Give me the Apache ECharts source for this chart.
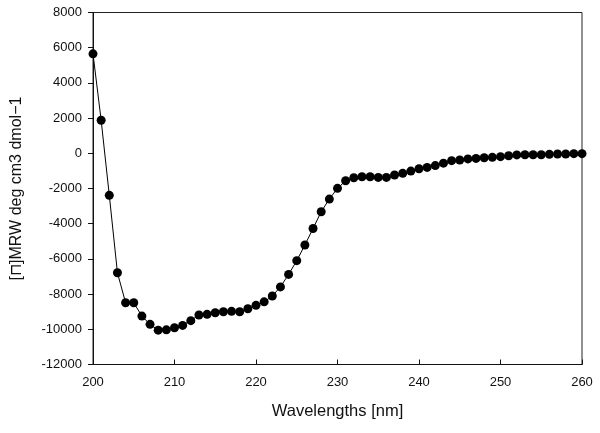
<!DOCTYPE html>
<html lang="en">

<head>
  <meta charset="UTF-8">
  <title>CD spectrum</title>
</head>

<body style="margin:0;background:#fff;">
  <div id="main" style="width: 600px;height:433px;"></div>

  <script src="https://cdn.jsdelivr.net/npm/echarts@6/dist/echarts.min.js"></script>
  <script>
    // wavelengths 200..260 nm, one reading per nm
    let wavelengths = [
      200, 201, 202, 203, 204, 205, 206, 207, 208, 209,
      210, 211, 212, 213, 214, 215, 216, 217, 218, 219,
      220, 221, 222, 223, 224, 225, 226, 227, 228, 229,
      230, 231, 232, 233, 234, 235, 236, 237, 238, 239,
      240, 241, 242, 243, 244, 245, 246, 247, 248, 249,
      250, 251, 252, 253, 254, 255, 256, 257, 258, 259, 260
    ];
    let ellipticity = [
      5650, 1880, -2390, -6790, -8490, -8490, -9250, -9720, -10050, -10030,
      -9910, -9780, -9510, -9190, -9150, -9060, -9000, -8980, -9000, -8830,
      -8640, -8440, -8110, -7590, -6880, -6100, -5210, -4270, -3320, -2600,
      -1990, -1560, -1390, -1330, -1330, -1370, -1370, -1230, -1140, -1010,
      -880, -800, -700, -560, -420, -380, -320, -290, -250, -230,
      -190, -140, -90, -80, -80, -80, -60, -40, -40, -20, -20
    ];
    let xTicks = { min: 200, max: 260, step: 10 };
    let yTicks = { min: -12000, max: 8000, step: 2000 };

    let points = wavelengths.map((w, i) => [w, ellipticity[i]]);
    let font = '"Liberation Sans", Arial, sans-serif';

    let chart = echarts.init(document.getElementById('main'));
    let option = {
      animation: false,
      backgroundColor: '#fff',
      grid: {
        left: 93,
        right: 18,
        top: 12.5,
        bottom: 68.5,
        show: true,
        borderColor: '#222',
        borderWidth: 1
      },
      xAxis: {
        type: 'value',
        min: xTicks.min,
        max: xTicks.max,
        interval: xTicks.step,
        name: 'Wavelengths [nm]',
        nameLocation: 'middle',
        nameGap: 38,
        nameTextStyle: { fontFamily: font, fontSize: 16.5, color: '#111' },
        axisLine: { onZero: false, lineStyle: { color: '#111', width: 1 } },
        axisTick: { inside: true, length: 5, lineStyle: { color: '#111' } },
        axisLabel: { fontFamily: font, fontSize: 13, color: '#111', margin: 11 },
        splitLine: { show: false }
      },
      yAxis: {
        type: 'value',
        min: yTicks.min,
        max: yTicks.max,
        interval: yTicks.step,
        name: '[\u2293]MRW deg cm3 dmol\u22121',
        nameLocation: 'middle',
        nameGap: 68,
        nameTextStyle: { fontFamily: font, fontSize: 16, color: '#111' },
        axisLine: { show: true, onZero: false, lineStyle: { color: '#111', width: 1 } },
        axisTick: { show: true, length: 5, lineStyle: { color: '#111' } },
        axisLabel: {
          fontFamily: font, fontSize: 13, color: '#111', margin: 11,
          formatter: (v) => String(v)
        },
        splitLine: { show: false }
      },
      series: [{
        type: 'line',
        data: points,
        symbol: 'circle',
        symbolSize: 9,
        showAllSymbol: true,
        itemStyle: { color: '#000' },
        lineStyle: { color: '#000', width: 1 }
      }]
    };
    chart.setOption(option);
  </script>
</body>

</html>
